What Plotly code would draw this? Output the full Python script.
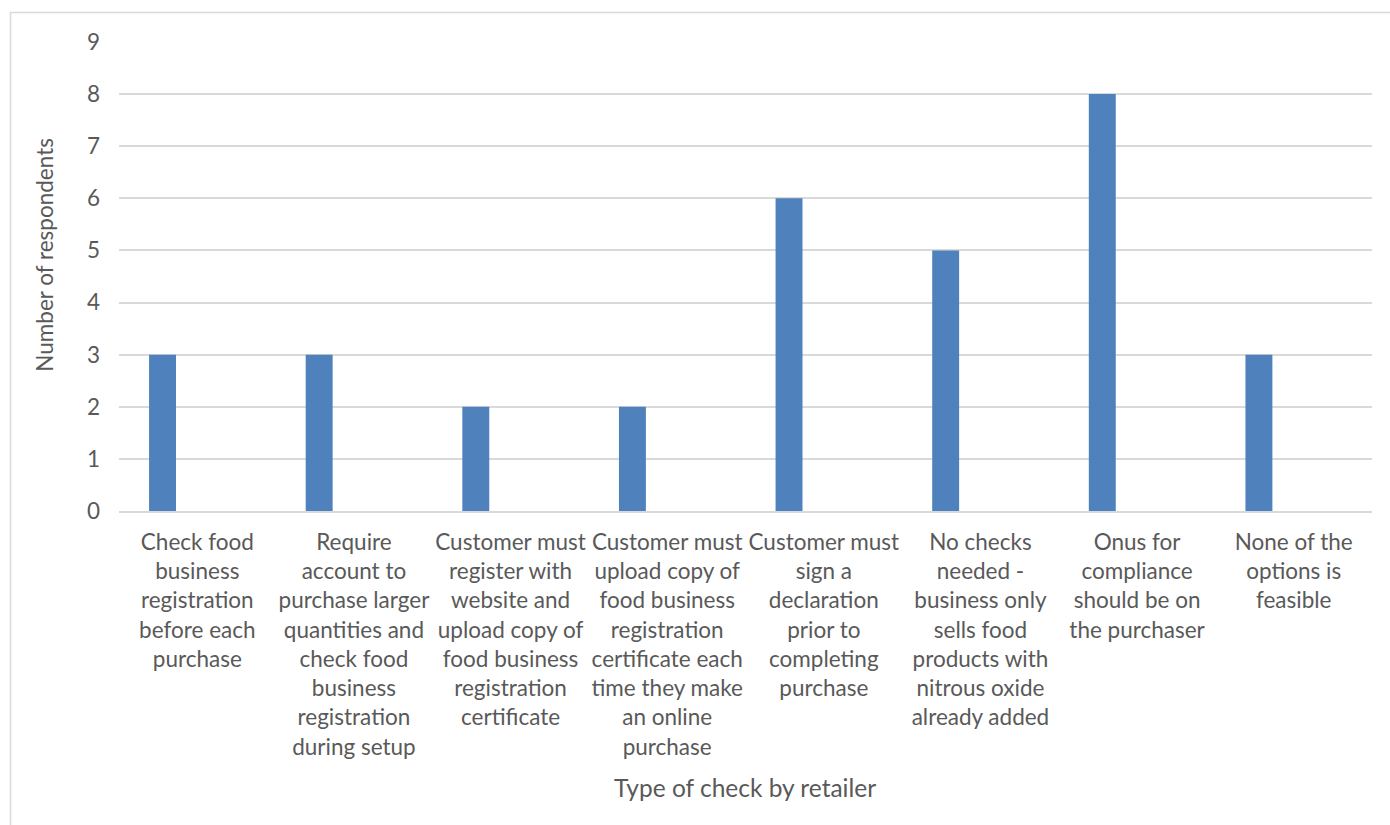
import plotly.graph_objects as go

categories = [
    "Check food<br>business<br>registration<br>before each<br>purchase",
    "Require<br>account to<br>purchase larger<br>quantities and<br>check food<br>business<br>registration<br>during setup",
    "Customer must<br>register with<br>website and<br>upload copy of<br>food business<br>registration<br>certificate",
    "Customer must<br>upload copy of<br>food business<br>registration<br>certificate each<br>time they make<br>an online<br>purchase",
    "Customer must<br>sign a<br>declaration<br>prior to<br>completing<br>purchase",
    "No checks<br>needed -<br>business only<br>sells food<br>products with<br>nitrous oxide<br>already added",
    "Onus for<br>compliance<br>should be on<br>the purchaser",
    "None of the<br>options is<br>feasible",
]
respondents = [3, 3, 2, 2, 6, 5, 8, 3]
y_ticks = list(range(0, 10))

FONT = "Lato"
TXT = "#595959"
positions = list(range(len(categories)))

fig = go.Figure()
fig.add_trace(go.Bar(
    x=positions, y=respondents,
    width=0.172, offset=-0.308,
    marker=dict(color="#4F81BD", line=dict(width=0)),
    showlegend=False,
))

fig.update_layout(
    width=1390, height=825,
    margin=dict(l=119, r=18, t=42, b=314),
    paper_bgcolor="white", plot_bgcolor="white",
    font=dict(family=FONT, color=TXT, size=22.5),
    xaxis=dict(
        range=[-0.5, len(categories) - 0.5],
        tickmode="array", tickvals=positions, ticktext=categories,
        showgrid=False, zeroline=False,
        showline=True, linecolor="#D9D9D9", linewidth=1.5,
        ticks="", tickangle=0,
        tickfont=dict(family=FONT, color=TXT, size=22.5),
        ticklabelstandoff=10,
    ),
    yaxis=dict(
        range=[0, 9], tickmode="array", tickvals=y_ticks,
        showgrid=True, gridcolor="#D9D9D9", gridwidth=1.5,
        zeroline=False, showline=False, ticks="",
        tickfont=dict(family=FONT, color=TXT, size=22.5),
        ticklabelstandoff=18,
    ),
    annotations=[
        dict(text="Number of respondents", xref="paper", yref="paper",
             x=(45 - 119) / 1253, y=(511 - 255) / 468.5,
             xanchor="center", yanchor="middle",
             textangle=-90, showarrow=False,
             font=dict(family=FONT, color=TXT, size=22.5)),
        dict(text="Type of check by retailer", xref="paper", yref="paper",
             x=(745 - 119) / 1253, y=-(787 - 511) / 468.5,
             xanchor="center", yanchor="middle", showarrow=False,
             font=dict(family=FONT, color=TXT, size=24.5)),
    ],
    shapes=[
        dict(type="rect", xref="paper", yref="paper",
             x0=(10.5 - 119) / 1253, x1=(1400 - 119) / 1253,
             y0=-(840 - 511) / 468.5, y1=(511 - 13) / 468.5,
             line=dict(color="#D9D9D9", width=1.5), fillcolor="rgba(0,0,0,0)",
             layer="below"),
    ],
)

fig.write_html("out.html")
